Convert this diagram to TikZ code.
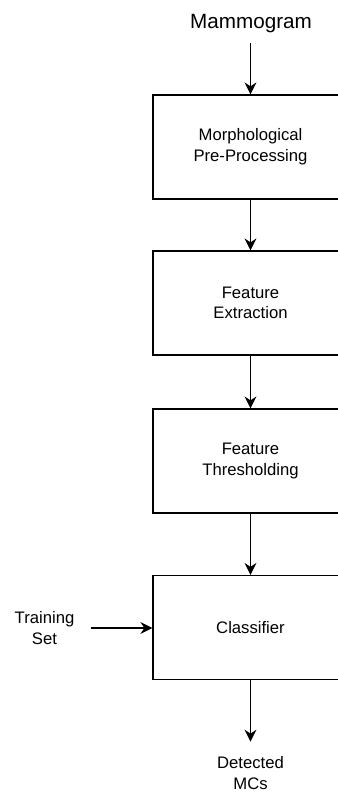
\documentclass[tikz,border=0pt]{standalone}
\usepackage{fontspec}
\setmainfont{Liberation Sans}
\usetikzlibrary{arrows.meta}
\begin{document}
\begin{tikzpicture}[x=0.75pt,y=-0.75pt,
  proc/.style={draw,line width=0.9pt,minimum width=146.25pt,minimum height=78pt,align=center,font=\fontsize{12.5}{15.5}\selectfont,inner sep=0pt},
  lbl/.style={align=center,font=\fontsize{12.5}{15.5}\selectfont},
  flow/.style={draw,line width=0.9pt,-{Stealth[length=9pt,width=9pt,inset=3pt]}}]
\useasboundingbox (0,0) rectangle (338,793);
\fill[white] (0,0) rectangle (338,793);
\clip (0,0) rectangle (338,793);
\node[font=\fontsize{15.5}{18}\selectfont,inner ysep=7.5pt,anchor=base] (mam) at (251,28.5) {Mammogram};
\node[proc] (pre) at (250.5,147) {Morphological\\Pre-Processing};
\node[proc] (fe) at (250.5,303) {Feature\\Extraction};
\node[proc] (ft) at (250.5,461) {Feature\\Thresholding};
\node[proc] (cls) at (250.5,627.5) {Classifier};
\node[lbl,inner xsep=12pt] (train) at (44.5,628) {Training\\Set};
\node[lbl,inner ysep=11pt] (det) at (250.5,773) {Detected\\MCs};
\draw[flow] (mam.south -| pre.north) -- (pre.north);
\draw[flow] (pre) -- (fe);
\draw[flow] (fe) -- (ft);
\draw[flow] (ft) -- (cls);
\draw[flow] (train.east) -- (train.east -| cls.west);
\draw[flow] (cls) -- (det);
\end{tikzpicture}
\end{document}
